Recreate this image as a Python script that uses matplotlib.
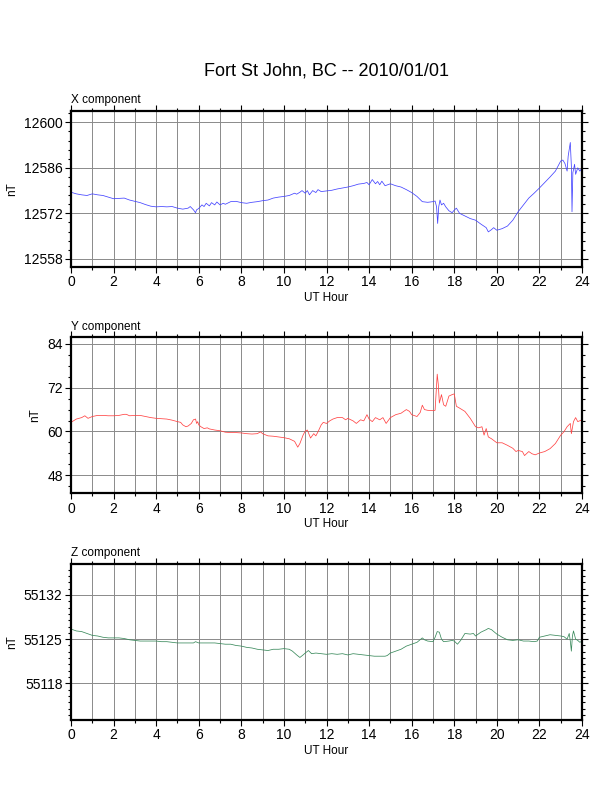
import matplotlib
matplotlib.use("Agg")
import matplotlib.pyplot as plt
from matplotlib.ticker import MultipleLocator, FormatStrFormatter

plt.rcParams["font.family"] = ["Liberation Sans", "DejaVu Sans"]

title = "Fort St John, BC -- 2010/01/01"

# X component (nT)
x_hours = [0, 0.25, 0.5, 0.75, 1.0, 1.25, 1.5, 1.75, 2.0, 2.25, 2.5, 2.75, 3.0, 3.25,
           3.5, 3.75, 4.0, 4.25, 4.5, 4.75, 5.0, 5.25, 5.5, 5.6, 5.75, 5.85, 5.9, 6.0,
           6.15, 6.25, 6.35, 6.5, 6.6, 6.75, 6.85, 7.0, 7.15, 7.25, 7.5, 7.75, 8.0,
           8.25, 8.5, 8.75, 9.0, 9.25, 9.5, 9.75, 10.0, 10.25, 10.5, 10.6, 10.75,
           10.85, 11.0, 11.1, 11.2, 11.35, 11.5, 11.6, 11.75, 12.0, 12.25, 12.5,
           12.75, 13.0, 13.25, 13.5, 13.75, 13.9, 14.0, 14.15, 14.3, 14.4, 14.5,
           14.6, 14.75, 15.0, 15.25, 15.5, 15.75, 16.0, 16.25, 16.5, 16.75, 17.0,
           17.1, 17.17, 17.22, 17.27, 17.33, 17.4, 17.5, 17.6, 17.75, 17.9, 18.0,
           18.1, 18.25, 18.5, 18.75, 19.0, 19.25, 19.5, 19.6, 19.75, 19.85, 20.0,
           20.25, 20.5, 20.75, 21.0, 21.25, 21.5, 21.75, 22.0, 22.25, 22.5, 22.75,
           23.0, 23.1, 23.2, 23.3, 23.35, 23.45, 23.5, 23.53, 23.57, 23.65, 23.7,
           23.8, 23.9, 24.0]
x_nt = [12578.5, 12578.0, 12577.7, 12577.5, 12578.0, 12577.7, 12577.5, 12577.0,
        12576.5, 12576.6, 12576.7, 12576.1, 12575.7, 12575.3, 12574.7, 12574.2,
        12574.0, 12574.1, 12574.0, 12574.1, 12573.6, 12573.3, 12573.6, 12574.1,
        12573.1, 12572.2, 12573.1, 12573.5, 12574.6, 12574.1, 12575.1, 12574.3,
        12575.3, 12574.6, 12575.5, 12574.6, 12575.1, 12574.8, 12575.6, 12575.7,
        12575.3, 12575.1, 12575.4, 12575.6, 12575.9, 12576.1, 12576.7, 12577.0,
        12577.2, 12577.5, 12578.2, 12577.9, 12578.5, 12579.0, 12578.2, 12579.0,
        12577.7, 12579.0, 12578.4, 12579.3, 12578.7, 12578.9, 12579.1, 12579.5,
        12579.8, 12580.1, 12580.5, 12581.0, 12581.2, 12581.5, 12580.8, 12582.4,
        12581.1, 12581.8, 12580.8, 12581.9, 12580.5, 12581.1, 12580.5, 12580.1,
        12579.3, 12578.4, 12577.2, 12575.6, 12575.4, 12575.6, 12575.8, 12574.0,
        12568.9, 12574.0, 12576.1, 12574.6, 12575.1, 12574.0, 12572.8, 12572.2,
        12573.0, 12573.6, 12572.0, 12571.2, 12570.4, 12569.9, 12568.7, 12567.6,
        12566.3, 12567.0, 12567.6, 12566.8, 12567.3, 12568.1, 12569.9, 12572.5,
        12574.6, 12576.7, 12578.2, 12579.8, 12581.5, 12583.2, 12585.0, 12588.1,
        12588.4, 12587.3, 12585.0, 12589.6, 12593.8, 12586.5, 12572.5, 12584.5,
        12587.1, 12584.0, 12586.0, 12585.0, 12586.0]

# Y component (nT)
y_hours = [0, 0.25, 0.5, 0.65, 0.8, 1.0, 1.25, 1.5, 1.75, 2.0, 2.25, 2.5, 2.6, 2.75,
           3.0, 3.25, 3.5, 3.75, 4.0, 4.25, 4.5, 4.75, 5.0, 5.15, 5.25, 5.4, 5.5,
           5.65, 5.75, 5.85, 5.9, 5.95, 6.0, 6.1, 6.25, 6.4, 6.5, 6.75, 7.0, 7.25,
           7.5, 7.75, 8.0, 8.25, 8.5, 8.75, 8.9, 9.0, 9.25, 9.5, 9.75, 10.0, 10.25,
           10.5, 10.65, 10.75, 10.9, 11.0, 11.1, 11.25, 11.4, 11.5, 11.6, 11.75,
           11.85, 12.0, 12.15, 12.3, 12.5, 12.75, 12.9, 13.0, 13.25, 13.4, 13.6,
           13.75, 13.9, 14.0, 14.15, 14.3, 14.5, 14.65, 14.8, 15.0, 15.25, 15.5,
           15.75, 15.9, 16.0, 16.25, 16.4, 16.5, 16.6, 16.75, 17.0, 17.1, 17.2,
           17.25, 17.3, 17.4, 17.5, 17.6, 17.75, 17.9, 18.0, 18.1, 18.25, 18.5,
           18.75, 19.0, 19.15, 19.3, 19.4, 19.5, 19.6, 19.75, 20.0, 20.25, 20.5,
           20.75, 20.9, 21.0, 21.2, 21.3, 21.5, 21.65, 21.8, 22.0, 22.25, 22.5,
           22.75, 23.0, 23.15, 23.3, 23.45, 23.5, 23.6, 23.7, 23.8, 24.0]
y_nt = [62.5, 63.4, 63.8, 64.3, 63.6, 64.1, 64.4, 64.4, 64.3, 64.3, 64.4, 64.7, 64.7,
        64.3, 64.4, 64.4, 64.1, 63.8, 63.6, 63.5, 63.4, 63.1, 62.7, 62.5, 61.8, 61.3,
        61.5, 62.2, 63.2, 63.4, 62.2, 62.7, 61.8, 61.3, 60.8, 61.0, 60.7, 60.4, 60.2,
        59.8, 59.7, 59.7, 59.6, 59.4, 59.3, 59.4, 59.9, 59.4, 58.8, 58.7, 58.5, 58.3,
        58.0, 57.3, 55.7, 56.7, 59.0, 60.1, 60.4, 58.2, 59.4, 58.8, 59.9, 61.8, 62.5,
        62.2, 62.9, 63.4, 63.8, 63.8, 63.2, 63.6, 62.9, 62.2, 63.2, 62.9, 64.6, 63.4,
        62.7, 63.8, 63.2, 63.8, 62.2, 63.8, 64.6, 65.0, 66.0, 65.5, 64.6, 64.1, 65.2,
        67.2, 66.0, 65.8, 65.7, 65.8, 75.7, 72.9, 67.8, 70.1, 67.3, 66.9, 69.7, 70.1,
        70.3, 66.9, 66.4, 65.5, 63.6, 61.3, 61.0, 61.3, 59.0, 60.8, 58.5, 58.0, 56.9,
        56.9, 56.2, 55.4, 54.5, 54.8, 54.5, 53.4, 54.5, 53.9, 53.6, 54.1, 54.5, 55.3,
        56.7, 59.0, 59.9, 61.3, 62.2, 59.4, 62.7, 63.8, 62.7, 63.2]

# Z component (nT)
z_hours = [0, 0.25, 0.5, 0.75, 1.0, 1.25, 1.5, 1.75, 2.0, 2.25, 2.5, 2.75, 3.0, 3.25,
           3.5, 3.75, 4.0, 4.25, 4.5, 4.75, 5.0, 5.25, 5.5, 5.75, 5.85, 6.0, 6.25,
           6.5, 6.75, 7.0, 7.25, 7.5, 7.75, 8.0, 8.25, 8.5, 8.75, 9.0, 9.25, 9.5,
           9.75, 10.0, 10.25, 10.4, 10.6, 10.75, 10.9, 11.0, 11.15, 11.3, 11.5,
           11.75, 12.0, 12.25, 12.5, 12.75, 13.0, 13.25, 13.5, 13.75, 14.0, 14.25,
           14.5, 14.75, 14.85, 15.0, 15.25, 15.5, 15.75, 16.0, 16.25, 16.5, 16.6,
           16.75, 17.0, 17.1, 17.2, 17.3, 17.4, 17.5, 17.75, 17.9, 18.0, 18.15, 18.3,
           18.5, 18.75, 18.9, 19.0, 19.25, 19.5, 19.6, 19.75, 20.0, 20.25, 20.5,
           20.75, 21.0, 21.25, 21.5, 21.75, 21.9, 22.0, 22.25, 22.5, 22.75, 23.0,
           23.15, 23.3, 23.4, 23.45, 23.5, 23.55, 23.6, 23.7, 23.8, 23.9, 24.0]
z_nt = [55126.6, 55126.3, 55126.2, 55125.9, 55125.6, 55125.5, 55125.3, 55125.2,
        55125.2, 55125.2, 55125.1, 55124.9, 55124.8, 55124.7, 55124.7, 55124.7,
        55124.7, 55124.6, 55124.6, 55124.5, 55124.4, 55124.4, 55124.4, 55124.4,
        55124.6, 55124.4, 55124.4, 55124.4, 55124.4, 55124.3, 55124.2, 55124.2,
        55124.0, 55123.9, 55123.7, 55123.6, 55123.4, 55123.3, 55123.2, 55123.4,
        55123.4, 55123.5, 55123.4, 55123.1, 55122.5, 55122.1, 55122.5, 55122.8,
        55123.2, 55122.7, 55122.8, 55122.7, 55122.6, 55122.7, 55122.6, 55122.7,
        55122.5, 55122.7, 55122.6, 55122.5, 55122.4, 55122.3, 55122.3, 55122.3,
        55122.4, 55122.8, 55123.1, 55123.4, 55123.9, 55124.2, 55124.5, 55125.2,
        55124.9, 55124.7, 55124.6, 55125.3, 55126.2, 55126.1, 55125.0, 55124.6,
        55124.7, 55124.8, 55124.7, 55124.2, 55124.8, 55125.9, 55125.8, 55125.9,
        55125.5, 55126.1, 55126.5, 55126.7, 55126.5, 55125.8, 55125.3, 55124.9,
        55124.8, 55124.9, 55124.7, 55124.7, 55124.6, 55124.7, 55125.3, 55125.5,
        55125.7, 55125.6, 55125.5, 55125.4, 55125.0, 55125.9, 55124.7, 55123.1,
        55125.5, 55126.3, 55125.0, 55124.8, 55124.5, 55124.7]

panels = [
    ("X component", x_hours, x_nt, "#4444ff", (12555.6, 12603.6), 14, 2.8, 0.6633),
    ("Y component", y_hours, y_nt, "#ff4444", (43.05, 85.8), 12, 3, 0.3771),
    ("Z component", z_hours, z_nt, "#3a8a5c", (55112.2, 55136.9), 7, 1, 0.0909),
]

fig = plt.figure(figsize=(6.12, 7.92), dpi=100)
fig.text(0.5335, 0.905, title, ha="center", va="baseline", fontsize=13)

for name, hrs, vals, color, ylim, major, minor, bottom in panels:
    ax = fig.add_axes([0.116, bottom, 0.835, 0.197])
    ax.plot(hrs, vals, color=color, linewidth=0.55)
    ax.set_xlim(0, 24)
    ax.set_ylim(*ylim)
    ax.xaxis.set_major_locator(MultipleLocator(2))
    ax.xaxis.set_minor_locator(MultipleLocator(1))
    ax.yaxis.set_major_locator(MultipleLocator(major))
    ax.yaxis.set_minor_locator(MultipleLocator(minor))
    ax.yaxis.set_major_formatter(FormatStrFormatter("%d"))
    # grid on every hour, and on the labelled nT values
    ax.grid(True, which="major", axis="y", color="#8a8a8a", linewidth=0.7)
    ax.grid(True, which="both", axis="x", color="#8a8a8a", linewidth=0.7)
    ax.set_axisbelow(True)
    ax.tick_params(which="both", direction="out", top=True, right=True,
                   labeltop=False, labelright=False, width=0.8)
    ax.tick_params(which="major", length=4, labelsize=10, pad=2)
    ax.tick_params(which="minor", length=2)
    for sp in ax.spines.values():
        sp.set_linewidth(1.6)
    ax.set_xlabel("UT Hour", fontsize=8.5, labelpad=2)
    ax.set_ylabel("nT", fontsize=8.5, labelpad=4)
    ax.text(0.0, 1.03, name, transform=ax.transAxes, fontsize=8.5,
            ha="left", va="bottom")

fig.savefig("out.png", dpi=100)
